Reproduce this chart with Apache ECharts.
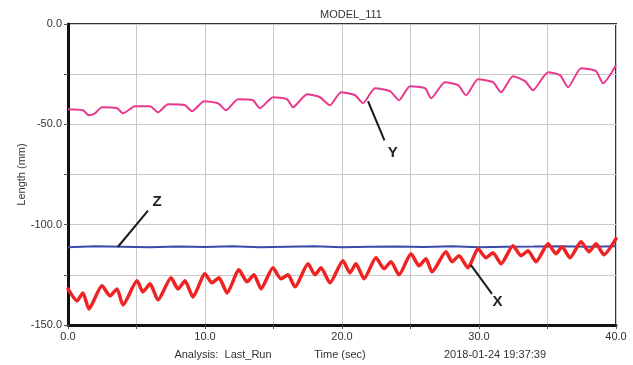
<!DOCTYPE html>
<html><head><meta charset="utf-8">
<script src="https://cdn.jsdelivr.net/npm/echarts@6/dist/echarts.min.js"></script>
<style>html,body{margin:0;padding:0;background:#fff}#c{width:633px;height:365px}</style>
</head><body><div id="c"></div>
<script>
const chartTitle = 'MODEL_111';
const xTickLabels = ['0.0','10.0','20.0','30.0','40.0'];
const yTickLabels = ['0.0','-50.0','-100.0','-150.0'];

// X series (red)
const xTime = [0,0.66,1.09,1.53,2.48,3.07,3.58,4.01,5.04,5.47,5.99,6.57,7.52,8.03,8.54,9.12,10.0,10.51,11.02,11.61,12.48,13.07,13.58,14.09,14.96,15.55,16.06,16.57,17.52,18.03,18.47,19.12,20.07,20.58,21.02,21.61,22.48,23.07,23.58,24.16,25.04,25.62,26.13,26.57,27.59,28.03,28.54,29.2,29.93,30.51,31.02,31.61,32.48,33.07,33.58,34.16,35.04,35.62,36.06,36.64,37.45,38.03,38.54,39.12,40];
const xLen = [-132,-138,-134,-142,-130.5,-135.5,-132,-140,-128,-133.5,-129.5,-137.5,-126.5,-132,-128,-136,-124.5,-129,-126.5,-134,-122.5,-128.5,-125,-132,-121.5,-127,-125,-131,-119.5,-125,-121.5,-129,-118,-124,-119.5,-127,-116.5,-122,-118.5,-125,-114.5,-120.5,-117,-123.5,-113.5,-118.5,-115.5,-121.5,-112,-116.5,-114,-119.5,-110.5,-115.5,-113,-118.5,-109.5,-114.5,-111,-116.5,-108.5,-113.5,-109.5,-115,-107];

// Y series (magenta)
const yTime = [0,1.09,1.53,1.97,2.48,3.58,4.01,4.89,5.99,6.57,7.3,8.54,9.05,9.93,10.95,11.53,12.41,13.5,14.01,14.96,15.99,16.42,17.45,18.39,19.12,19.93,20.95,21.53,22.41,23.5,24.16,24.96,26.06,26.5,27.52,28.47,29.05,29.93,31.02,31.61,32.48,33.36,33.94,35.04,35.91,36.5,37.45,38.54,39.05,40];
const yLen = [-42.5,-43,-45.5,-44.5,-41.5,-42,-44.5,-41,-41,-44,-40,-40.5,-43.5,-38.5,-39.5,-43,-37.5,-38,-42,-36.5,-37.5,-41.5,-35,-36.5,-40.5,-34,-35.5,-39.5,-32,-33.5,-38,-31,-32,-37,-29,-30.5,-35.5,-27.5,-29,-34,-26,-28.5,-33,-24,-25.5,-31.5,-22,-23.5,-29.5,-20.5];

// Z series (blue)
const zTime = [0,2,4,6,8,10,12,14,16,18,20,22,24,26,28,30,32,34,36,38,40];
const zLen = [-111.2,-110.8,-111.0,-111.3,-110.9,-111.1,-110.7,-111.2,-111.0,-110.8,-111.3,-111.0,-110.9,-111.1,-110.8,-111.2,-111.0,-110.9,-110.7,-111.0,-110.8];

// annotation leaders: [startT, startV, endT, endV, labelT, labelV]
const yLeader = [21.9,-38.5,23.1,-58,23.7,-64];
const zLeader = [3.65,-111,5.84,-93,6.5,-88.5];
const xLeader = [29.4,-120,30.95,-134.5,31.35,-138.5];

const FONT = "'Liberation Sans Narrow','Arial Narrow','Liberation Sans',Arial,sans-serif";
const pairs = (a,b)=>a.map((t,i)=>[t,b[i]]);
function annot(l, txt){
  return {
    markLine:{silent:true,symbol:['none','none'],animation:false,
      lineStyle:{color:'#1a1a1a',width:2,type:'solid'},label:{show:false},
      data:[[{coord:[l[0],l[1]]},{coord:[l[2],l[3]]}]]},
    markPoint:{silent:true,animation:false,symbol:'circle',symbolSize:0,
      label:{show:true,position:'inside',formatter:txt,color:'#222',fontSize:15,fontWeight:'bold',fontFamily:FONT},
      data:[{coord:[l[4],l[5]]}]}
  };
}
const chart = echarts.init(document.getElementById('c'),null,{renderer:'canvas'});
chart.setOption({
  animation:false,
  backgroundColor:'#fff',
  title:[
    {text:chartTitle,left:346,top:4,textAlign:'center',textStyle:{fontSize:11,fontWeight:'normal',color:'#333',fontFamily:FONT}},
    {text:'Analysis:  Last_Run',left:218,top:344,textAlign:'center',textStyle:{fontSize:11,fontWeight:'normal',color:'#333',fontFamily:FONT}},
    {text:'Time (sec)',left:335,top:344,textAlign:'center',textStyle:{fontSize:11,fontWeight:'normal',color:'#333',fontFamily:FONT}},
    {text:'2018-01-24 19:37:39',left:490,top:344,textAlign:'center',textStyle:{fontSize:11,fontWeight:'normal',color:'#333',fontFamily:FONT}}
  ],
  grid:{left:68,right:17,top:24,bottom:40,show:true,borderColor:'#333',borderWidth:2,backgroundColor:'#fff'},
  xAxis:{type:'value',min:0,max:40,interval:5,
    axisLine:{show:true,onZero:false,lineStyle:{color:'#111',width:3}},
    axisTick:{show:true,length:4,lineStyle:{color:'#555'}},
    splitLine:{show:true,lineStyle:{color:'#c8c8c8',width:1}},
    axisLabel:{color:'#333',fontSize:11,fontFamily:FONT,margin:6,
      formatter:v=>{const i=xTickLabels.indexOf(v.toFixed(1));return i>=0?xTickLabels[i]:'';}}
  },
  yAxis:{type:'value',min:-150,max:0,interval:25,
    name:'Length (mm)',nameLocation:'middle',nameGap:41,nameRotate:90,nameMoveOverlap:false,
    nameTextStyle:{color:'#333',fontSize:11,fontFamily:FONT},
    axisLine:{show:true,onZero:false,lineStyle:{color:'#111',width:3}},
    axisTick:{show:true,length:4,lineStyle:{color:'#555'}},
    splitLine:{show:true,lineStyle:{color:'#c8c8c8',width:1}},
    axisLabel:{color:'#333',fontSize:11,fontFamily:FONT,margin:6,
      formatter:v=>{const i=yTickLabels.indexOf(v.toFixed(1));return i>=0?yTickLabels[i]:'';}}
  },
  series:[
    Object.assign({type:'line',name:'Z',data:pairs(zTime,zLen),showSymbol:false,symbol:'none',
      lineStyle:{color:'#3c4aa8',width:2}},annot(zLeader,'Z')),
    Object.assign({type:'line',name:'Y',data:pairs(yTime,yLen),showSymbol:false,symbol:'none',smooth:0.2,
      lineStyle:{color:'#e8388e',width:2}},annot(yLeader,'Y')),
    Object.assign({type:'line',name:'X',data:pairs(xTime,xLen),showSymbol:false,symbol:'none',smooth:0.2,
      lineStyle:{color:'#ee2424',width:3.5,join:'round',cap:'round'}},annot(xLeader,'X'))
  ]
});
</script></body></html>
